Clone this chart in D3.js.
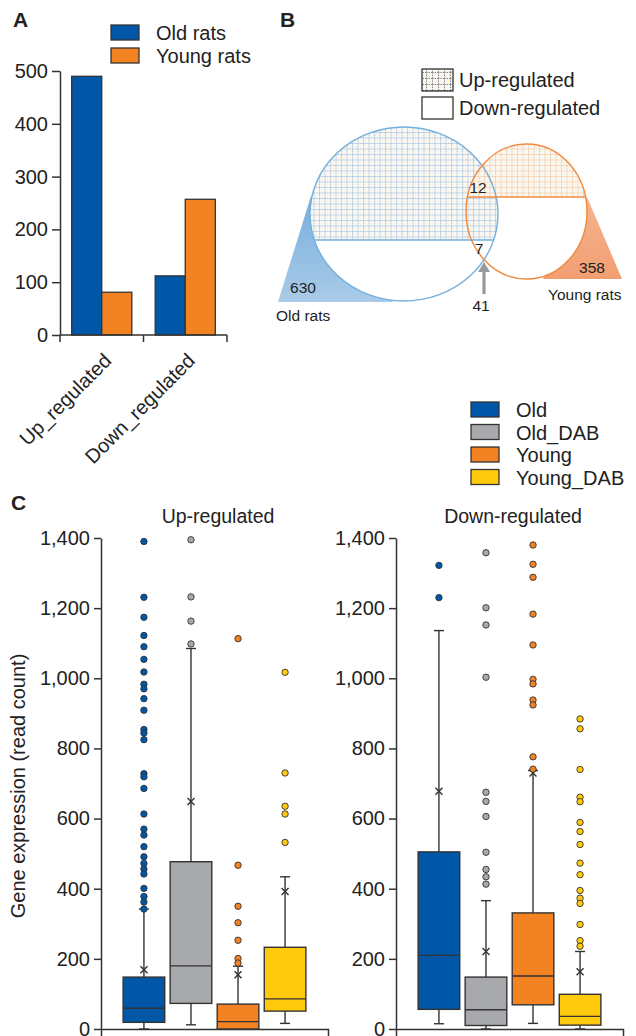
<!doctype html>
<html>
<head>
  <meta charset="utf-8">
  <title>rat DEG figure</title>
  <style>
    body { margin: 0; background: #fff; }
    svg { display: block; font-family: "Liberation Sans", Arial, sans-serif; }
    .axis text { font-size: 20px; fill: #222; }
    .axis path, .axis line { stroke: #333; stroke-width: 1.5; }
  </style>
</head>
<body>
  <div id="chart"></div>
  <script src="https://cdn.jsdelivr.net/npm/d3@7"></script>
  <script>
    // ---- panel A data
    const barCategories = ['Up_regulated', 'Down_regulated'];
    const barSeries = ['Old rats', 'Young rats'];
    const oldRatsCounts = [490, 112];
    const youngRatsCounts = [81, 257];
    const barTicks = [0, 100, 200, 300, 400, 500];

    // ---- panel B data
    const vennSets = ['Old rats', 'Young rats'];
    const vennOnly = [630, 358];
    const vennShared = [12, 7, 41];
    const vennLegend = ['Up-regulated', 'Down-regulated'];

    // ---- panel C data
    const groups = ['Old', 'Old_DAB', 'Young', 'Young_DAB'];
    const boxTicks = [0, 200, 400, 600, 800, 1000, 1200, 1400];
    const panelTitles = ['Up-regulated', 'Down-regulated'];

    const upQ1 = [19, 73, 0, 51];
    const upMedian = [59, 180, 21, 86];
    const upQ3 = [148, 477, 71, 233];
    const upLow = [0, 12, 0, 16];
    const upHigh = [342, 1085, 179, 434];
    const upMean = [169, 649, 155, 392];
    const upOutliers = [
      [1390, 1231, 1174, 1122, 1090, 1054, 1018, 983, 970, 942, 909, 854, 844, 825, 728, 719, 686, 613, 570, 553, 520, 491, 472, 456, 442, 401, 378, 362, 342],
      [1395, 1232, 1163, 1098],
      [1113, 467, 350, 303, 253, 201, 188],
      [1017, 730, 635, 613, 532]
    ];

    const downQ1 = [56, 10, 69, 11];
    const downMedian = [210, 55, 151, 36];
    const downQ3 = [505, 148, 331, 99];
    const downLow = [15, 0, 16, 0];
    const downHigh = [1136, 366, 737, 221];
    const downMean = [678, 221, 730, 163];
    const downOutliers = [
      [1322, 1230],
      [1358, 1201, 1152, 1003, 675, 649, 606, 504, 455, 434, 413],
      [1380, 1325, 1288, 1183, 1095, 997, 984, 938, 924, 776, 741],
      [884, 856, 740, 661, 648, 589, 563, 526, 473, 440, 395, 373, 358, 298, 252, 236]
    ];

    const colors = ['#0057a8', '#a7a9ac', '#f28222', '#ffc90e'];
    const barColors = ['#0057a8', '#f28222'];

    const W = 636, H = 1036;
    const svg = d3.select('#chart').append('svg').attr('width', W).attr('height', H);

    const defs = svg.append('defs');
    const addGrid = (id, col, s) => {
      const p = defs.append('pattern').attr('id', id).attr('patternUnits', 'userSpaceOnUse')
        .attr('width', s).attr('height', s);
      p.append('rect').attr('width', s).attr('height', s).attr('fill', '#f9f7ef');
      p.append('path').attr('d', `M0,0.5H${s}M0.5,0V${s}`).attr('stroke', col).attr('stroke-width', 1)
        .attr('stroke-dasharray', '1.5,1').attr('fill', 'none');
    };
    addGrid('gridOld', '#9dbde3', 5.5);
    addGrid('gridYoung', '#f3c49e', 5.5);
    addGrid('gridLegend', '#8a8a8a', 6);

    const addGrad = (id, c1, c2) => {
      const g = defs.append('linearGradient').attr('id', id).attr('x1', 0).attr('y1', 0).attr('x2', 0).attr('y2', 1);
      g.append('stop').attr('offset', '0%').attr('stop-color', c1);
      g.append('stop').attr('offset', '100%').attr('stop-color', c2);
    };
    addGrad('gradOld', '#78aedc', '#a9cbe8');
    addGrad('gradYoung', '#f5b48f', '#f29e72');

    const panelLabel = (t, x, y) => svg.append('text').attr('x', x).attr('y', y).text(t)
      .attr('font-size', 21).attr('font-weight', 'bold').attr('fill', '#222');

    // ======== A: grouped bar chart
    panelLabel('A', 13, 27);
    const xA = d3.scaleBand().domain(barCategories).range([60, 227]).paddingInner(0.28).paddingOuter(0.14);
    const xSub = d3.scaleBand().domain(barSeries).range([0, xA.bandwidth()]);
    const yA = d3.scaleLinear().domain([0, 500]).range([335, 71]);

    const gA = svg.append('g');
    gA.append('g').attr('class', 'axis').attr('transform', 'translate(60,0)')
      .call(d3.axisLeft(yA).tickValues(barTicks).tickSize(8).tickSizeOuter(0).tickPadding(4));

    const barVals = [oldRatsCounts, youngRatsCounts];
    barSeries.forEach((s, si) => {
      gA.selectAll(null).data(barCategories).join('rect')
        .attr('x', c => xA(c) + xSub(s))
        .attr('y', (c, i) => yA(barVals[si][i]))
        .attr('width', xSub.bandwidth())
        .attr('height', (c, i) => yA(0) - yA(barVals[si][i]))
        .attr('fill', barColors[si]).attr('stroke', '#333').attr('stroke-width', 1.3);
    });
    // x axis line with boundary ticks
    gA.append('line').attr('x1', 60).attr('x2', 227).attr('y1', yA(0)).attr('y2', yA(0))
      .attr('stroke', '#333').attr('stroke-width', 1.5);
    d3.range(barCategories.length + 1).forEach(i => {
      const x = 60 + i * xA.step();
      gA.append('line').attr('x1', x).attr('x2', x).attr('y1', yA(0)).attr('y2', yA(0) + 7)
        .attr('stroke', '#333').attr('stroke-width', 1.5);
    });
    barCategories.forEach(c => {
      const cx = xA(c) + xA.bandwidth() / 2;
      gA.append('text').attr('transform', `translate(${cx + 6},${yA(0) + 22}) rotate(-45)`)
        .attr('text-anchor', 'end').attr('dy', '0.35em').attr('font-size', 20).attr('fill', '#222').text(c);
    });
    barSeries.forEach((s, i) => {
      gA.append('rect').attr('x', 111).attr('y', 25 + i * 23).attr('width', 28).attr('height', 15)
        .attr('fill', barColors[i]).attr('stroke', '#333').attr('stroke-width', 1.3);
      gA.append('text').attr('x', 156).attr('y', 40 + i * 23).attr('font-size', 20).attr('fill', '#222').text(s);
    });

    // ======== B: Venn
    panelLabel('B', 280, 27);
    const gB = svg.append('g');
    const oldE = { cx: 404, cy: 214, rx: 94, ry: 87, cut: 240 };
    const youngE = { cx: 526.5, cy: 211.5, rx: 60.5, ry: 67.5, cut: 197 };

    gB.append('polygon').attr('points', '278,302 311,196 393,302').attr('fill', 'url(#gradOld)');
    gB.append('polygon').attr('points', '587,197 622,279 543,279').attr('fill', 'url(#gradYoung)');

    [oldE, youngE].forEach(e => {
      gB.append('ellipse').attr('cx', e.cx).attr('cy', e.cy).attr('rx', e.rx).attr('ry', e.ry).attr('fill', '#fff');
    });
    [[oldE, 'gridOld', 'clipOld'], [youngE, 'gridYoung', 'clipYoung']].forEach(([e, pat, cid]) => {
      defs.append('clipPath').attr('id', cid).append('ellipse')
        .attr('cx', e.cx).attr('cy', e.cy).attr('rx', e.rx).attr('ry', e.ry);
      gB.append('rect').attr('x', e.cx - e.rx).attr('y', e.cy - e.ry).attr('width', 2 * e.rx)
        .attr('height', e.cut - (e.cy - e.ry)).attr('fill', `url(#${pat})`).attr('clip-path', `url(#${cid})`);
    });
    [[oldE, '#72afdc'], [youngE, '#f28a3e']].forEach(([e, col]) => {
      const half = e.rx * Math.sqrt(1 - Math.pow((e.cut - e.cy) / e.ry, 2));
      gB.append('line').attr('x1', e.cx - half).attr('x2', e.cx + half).attr('y1', e.cut).attr('y2', e.cut)
        .attr('stroke', col).attr('stroke-width', 1.3);
      gB.append('ellipse').attr('cx', e.cx).attr('cy', e.cy).attr('rx', e.rx).attr('ry', e.ry)
        .attr('fill', 'none').attr('stroke', col).attr('stroke-width', 1.4);
    });
    // arrow
    gB.append('line').attr('x1', 484).attr('x2', 484).attr('y1', 294).attr('y2', 270)
      .attr('stroke', '#999').attr('stroke-width', 3.2);
    gB.append('polygon').attr('points', '478,272 490,272 484,262').attr('fill', '#999');

    const vText = (t, x, y, anchor) => gB.append('text').attr('x', x).attr('y', y).text(t)
      .attr('font-size', 15.5).attr('fill', '#222').attr('text-anchor', anchor || 'middle');
    vText(vennOnly[0], 303, 293);
    vText(vennOnly[1], 592, 273);
    vText(vennShared[0], 478, 193);
    vText(vennShared[1], 479, 254);
    vText(vennShared[2], 481, 311);
    vText(vennSets[0], 276, 321, 'start');
    vText(vennSets[1], 548, 300, 'start');

    vennLegend.forEach((s, i) => {
      gB.append('rect').attr('x', 422).attr('y', 69 + i * 28).attr('width', 31).attr('height', 22)
        .attr('fill', i === 0 ? 'url(#gridLegend)' : '#fff').attr('stroke', '#333').attr('stroke-width', 1.3);
      gB.append('text').attr('x', 459).attr('y', 87 + i * 28).attr('font-size', 20).attr('fill', '#222').text(s);
    });

    // ======== C: box plots
    panelLabel('C', 11, 510);
    groups.forEach((g, i) => {
      svg.append('rect').attr('x', 471).attr('y', 402 + i * 22.5).attr('width', 28).attr('height', 15)
        .attr('fill', colors[i]).attr('stroke', '#333').attr('stroke-width', 1.3);
      svg.append('text').attr('x', 516).attr('y', 417 + i * 22.5).attr('font-size', 20).attr('fill', '#222').text(g);
    });

    const yC = d3.scaleLinear().domain([0, 1400]).range([1029, 538]);
    svg.append('text').attr('transform', 'translate(25,786) rotate(-90)').attr('text-anchor', 'middle')
      .attr('font-size', 20).attr('fill', '#222').text('Gene expression (read count)');

    const panels = [
      { x0: 101, title: panelTitles[0], q1: upQ1, med: upMedian, q3: upQ3, lo: upLow, hi: upHigh, mean: upMean, out: upOutliers },
      { x0: 396, title: panelTitles[1], q1: downQ1, med: downMedian, q3: downQ3, lo: downLow, hi: downHigh, mean: downMean, out: downOutliers }
    ];
    panels.forEach(p => {
      const g = svg.append('g');
      const x = d3.scaleBand().domain(groups).range([p.x0, p.x0 + 227]).paddingInner(0.115).paddingOuter(0.47);
      const bw = x.bandwidth();
      g.append('g').attr('class', 'axis').attr('transform', `translate(${p.x0},0)`)
        .call(d3.axisLeft(yC).tickValues(boxTicks).tickFormat(d3.format(',')).tickSize(7).tickSizeOuter(0).tickPadding(4));
      g.append('g').attr('class', 'axis').attr('transform', `translate(0,${yC(0)})`)
        .call(d3.axisBottom(x).tickSizeInner(0).tickSizeOuter(8).tickFormat(''));
      g.append('text').attr('x', p.x0 + 117).attr('y', 523).attr('text-anchor', 'middle')
        .attr('font-size', 19.5).attr('fill', '#222').text(p.title);

      groups.forEach((grp, i) => {
        const cx = x(grp) + bw / 2;
        const line = (x1, y1, x2, y2) => g.append('line').attr('x1', x1).attr('y1', y1).attr('x2', x2).attr('y2', y2)
          .attr('stroke', '#333').attr('stroke-width', 1.4);
        line(cx, yC(p.hi[i]), cx, yC(p.q3[i]));
        line(cx, yC(p.q1[i]), cx, yC(p.lo[i]));
        line(cx - 5, yC(p.hi[i]), cx + 5, yC(p.hi[i]));
        line(cx - 5, yC(p.lo[i]), cx + 5, yC(p.lo[i]));
        g.append('rect').attr('x', x(grp)).attr('y', yC(p.q3[i])).attr('width', bw)
          .attr('height', yC(p.q1[i]) - yC(p.q3[i])).attr('fill', colors[i]).attr('stroke', '#333').attr('stroke-width', 1.4);
        line(x(grp), yC(p.med[i]), x(grp) + bw, yC(p.med[i]));
        const my = yC(p.mean[i]);
        line(cx - 3.5, my - 3.5, cx + 3.5, my + 3.5);
        line(cx - 3.5, my + 3.5, cx + 3.5, my - 3.5);
        g.selectAll(null).data(p.out[i]).join('circle')
          .attr('cx', cx).attr('cy', d => yC(d)).attr('r', 3.2)
          .attr('fill', colors[i]).attr('stroke', '#333').attr('stroke-width', 0.9);
      });
    });
  </script>
</body>
</html>
